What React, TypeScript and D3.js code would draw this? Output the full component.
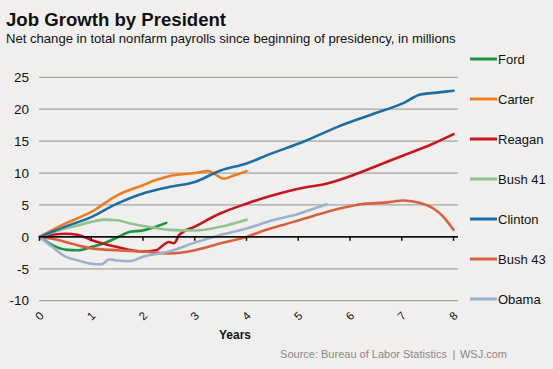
import React from "react";
import * as d3 from "d3";

const presidents = ["Ford", "Carter", "Reagan", "Bush 41", "Clinton", "Bush 43", "Obama"];
const colors = ["#1b9445", "#ee7d1f", "#c4161c", "#93c193", "#1a6ea3", "#d9603f", "#9cb1cc"];

const fordT = [0, 0.25, 0.5, 0.75, 1, 1.25, 1.5, 1.75, 2, 2.25, 2.45];
const fordV = [0, -1.3, -2.0, -2.1, -1.6, -1.0, -0.1, 0.8, 1.0, 1.6, 2.2];

const carterT = [0, 0.5, 1, 1.5, 2, 2.25, 2.5, 3, 3.25, 3.4, 3.55, 3.75, 4];
const carterV = [0, 2.1, 3.9, 6.5, 8.1, 8.9, 9.5, 10.0, 10.3, 9.8, 9.1, 9.6, 10.3];

const reaganT = [0, 0.5, 0.75, 1, 1.5, 2, 2.25, 2.5, 2.6, 2.7, 3, 3.5, 4, 4.46, 5.1, 5.48, 6.07, 6.39, 7.04, 7.55, 8];
const reaganV = [0, 0.5, 0.3, -0.5, -1.6, -2.3, -2.1, -0.8, -1.0, 0.3, 1.6, 3.7, 5.2, 6.4, 7.7, 8.2, 9.7, 10.7, 12.8, 14.4, 16.1];

const bush41T = [0, 0.5, 0.75, 1, 1.25, 1.5, 1.75, 2, 2.25, 2.5, 3, 3.5, 4];
const bush41V = [0, 1.3, 1.8, 2.35, 2.7, 2.6, 2.1, 1.7, 1.4, 1.1, 1.0, 1.6, 2.7];

const clintonT = [0, 0.5, 1, 1.5, 2, 2.5, 3, 3.5, 4, 4.46, 5.1, 5.75, 6.39, 7.04, 7.36, 7.68, 8];
const clintonV = [0, 1.6, 3.1, 5.2, 6.8, 7.8, 8.6, 10.4, 11.5, 13.0, 14.9, 17.2, 19.1, 21.0, 22.3, 22.6, 22.9];

const bush43T = [0, 0.25, 0.5, 1, 1.5, 2, 2.5, 3, 3.5, 4, 4.27, 4.91, 5.55, 6.2, 6.72, 7.04, 7.36, 7.62, 7.81, 8];
const bush43V = [0, -0.3, -0.8, -1.8, -2.1, -2.3, -2.6, -2.1, -1.0, 0, 0.8, 2.35, 3.9, 5.1, 5.4, 5.7, 5.3, 4.4, 3.1, 1.1];

const obamaT = [0, 0.25, 0.5, 0.75, 1, 1.2, 1.35, 1.5, 1.75, 2, 2.5, 3, 3.5, 4, 4.5, 5, 5.55];
const obamaV = [0, -1.6, -3.1, -3.7, -4.2, -4.3, -3.5, -3.7, -3.8, -3.1, -2.3, -0.9, 0.3, 1.3, 2.6, 3.6, 5.1];

const seriesT = [fordT, carterT, reaganT, bush41T, clintonT, bush43T, obamaT];
const seriesV = [fordV, carterV, reaganV, bush41V, clintonV, bush43V, obamaV];

const yTicks = [25, 20, 15, 10, 5, 0, -5, -10];
const xTicks = [0, 1, 2, 3, 4, 5, 6, 7, 8];

const W = 553;
const H = 369;
const FONT = "'Liberation Sans', Arial, Helvetica, sans-serif";

export default function App() {
  const x = d3.scaleLinear().domain([0, 8]).range([39.5, 453.5]);
  const y = d3.scaleLinear().domain([-10, 25]).range([300.7, 77.3]);
  const line = d3
    .line<[number, number]>()
    .x((d) => x(d[0]))
    .y((d) => y(d[1]))
    .curve(d3.curveMonotoneX);

  return (
    <svg
      width={W}
      height={H}
      style={{ position: "absolute", left: 0, top: 0, background: "#f0efed" }}
      fontFamily={FONT}
    >
      <rect x={0} y={0} width={W} height={H} fill="#f0efed" />
      <text x={6} y={26} fontSize={18.6} fontWeight="bold" fill="#111">
        Job Growth by President
      </text>
      <text x={6} y={43} fontSize={13.1} fill="#111">
        Net change in total nonfarm payrolls since beginning of presidency, in millions
      </text>

      {yTicks.map((t) => (
        <g key={t}>
          {t !== 0 && (
            <line x1={39} x2={458} y1={y(t)} y2={y(t)} stroke="#a8a6a4" strokeWidth={1.3} />
          )}
          <text x={29} y={y(t)} dy="0.35em" fontSize={13.5} textAnchor="end" fill="#111">
            {t}
          </text>
        </g>
      ))}

      {seriesT.map((ts, i) => (
        <path
          key={presidents[i]}
          d={line(ts.map((t, j) => [t, seriesV[i][j]] as [number, number])) || ""}
          fill="none"
          stroke={colors[i]}
          strokeWidth={2.6}
          strokeLinejoin="round"
          strokeLinecap="round"
        />
      ))}

      <line x1={39} x2={458} y1={y(0)} y2={y(0)} stroke="#111" strokeWidth={1.8} />
      {xTicks.map((t) => (
        <g key={t}>
          <line x1={x(t)} x2={x(t)} y1={y(0)} y2={y(0) + 4} stroke="#111" strokeWidth={1.5} />
          <text
            transform={`translate(${x(t)},${316}) rotate(-45)`}
            fontSize={11.5}
            textAnchor="middle"
            dy="0.35em"
            fill="#111"
          >
            {t}
          </text>
        </g>
      ))}

      <text x={235} y={339} fontSize={12} fontWeight="bold" textAnchor="middle" fill="#111">
        Years
      </text>
      <text x={447} y={358} fontSize={11} textAnchor="end" fill="#8a8886">
        Source: Bureau of Labor Statistics
      </text>
      <text x={454} y={358} fontSize={11} textAnchor="middle" fill="#8a8886">
        |
      </text>
      <text x={507} y={358} fontSize={11} textAnchor="end" fill="#8a8886">
        WSJ.com
      </text>

      {presidents.map((p, i) => {
        const ly = 59 + i * 40;
        return (
          <g key={p}>
            <line x1={470} x2={497} y1={ly} y2={ly} stroke={colors[i]} strokeWidth={3} />
            <text x={498} y={ly} dy="0.35em" fontSize={13} fill="#111">
              {p}
            </text>
          </g>
        );
      })}
    </svg>
  );
}
